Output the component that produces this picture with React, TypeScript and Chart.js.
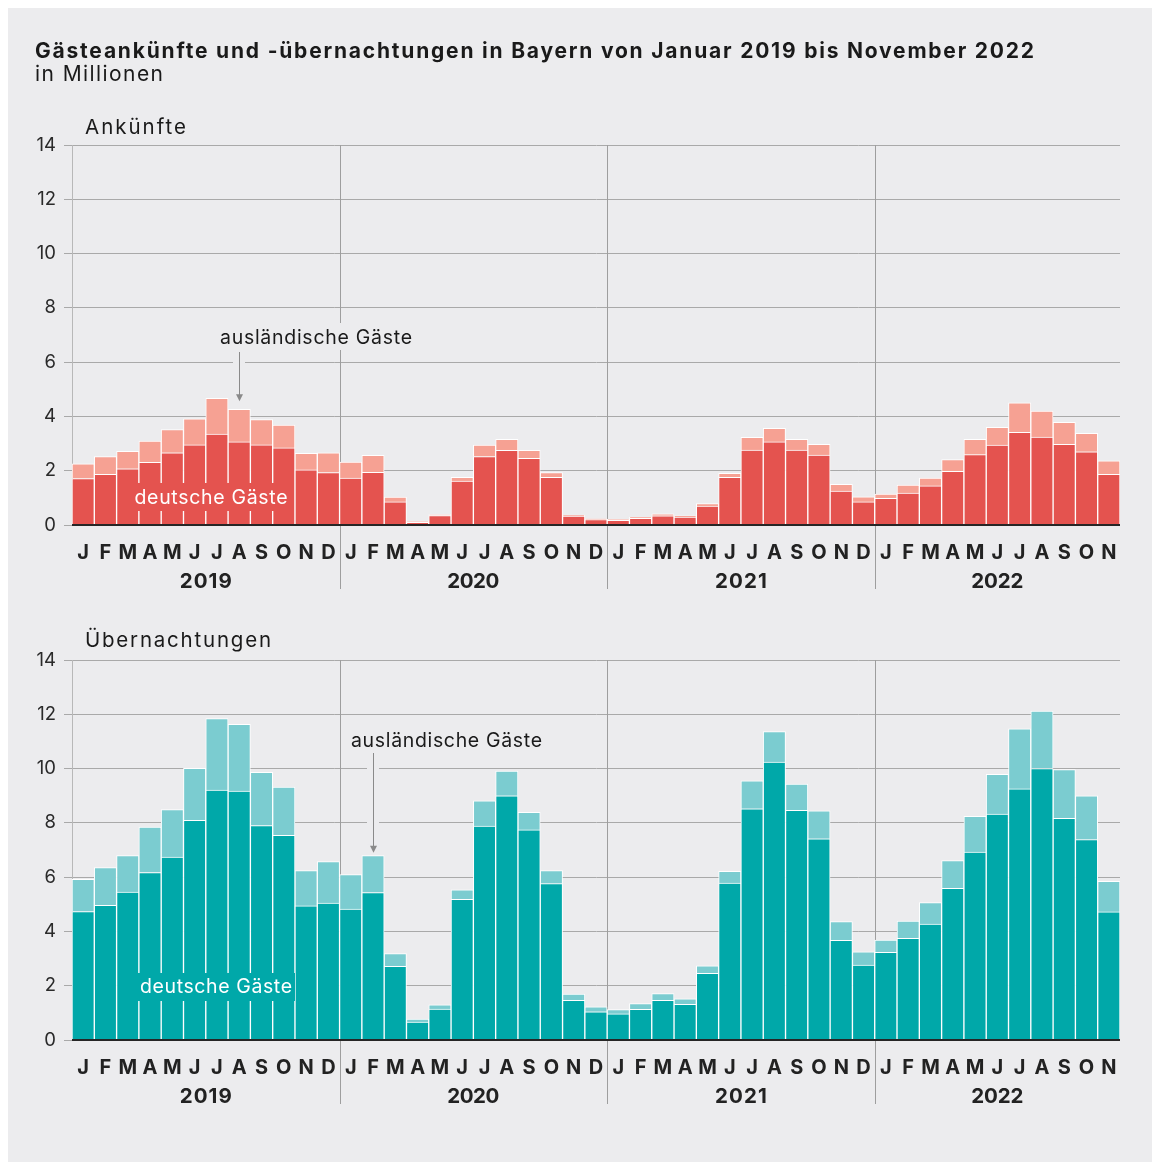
import React, { useEffect, useRef } from "react";
import { Chart, registerables } from "chart.js";

Chart.register(...registerables);

const FONT = "Inter, 'Liberation Sans', Arial, sans-serif";
const BG = "#ECECEE";

const MONTH_LETTERS = ["J", "F", "M", "A", "M", "J", "J", "A", "S", "O", "N", "D"];
const YEARS = ["2019", "2020", "2021", "2022"];
const CATEGORIES = YEARS.flatMap((y) => MONTH_LETTERS.map((_, i) => `${y}-${i + 1}`)).slice(0, 47);
const Y_TICKS = [0, 2, 4, 6, 8, 10, 12, 14];

const TITLE = "Gästeankünfte und -übernachtungen in Bayern von Januar 2019 bis November 2022";
const SUBTITLE = "in Millionen";

// Ankünfte (Mio.)
const ARRIVALS_GERMAN = [
  1.71, 1.87, 2.07, 2.31, 2.66, 2.95, 3.35, 3.06, 2.95, 2.84, 2.03, 1.93,
  1.73, 1.94, 0.85, 0.10, 0.35, 1.62, 2.52, 2.75, 2.46, 1.76, 0.33, 0.20,
  0.17, 0.25, 0.34, 0.29, 0.70, 1.76, 2.76, 3.06, 2.76, 2.58, 1.25, 0.85,
  0.98, 1.18, 1.44, 1.98, 2.59, 2.94, 3.41, 3.24, 2.97, 2.70, 1.87,
];
const ARRIVALS_FOREIGN = [
  0.54, 0.65, 0.64, 0.78, 0.86, 0.96, 1.32, 1.20, 0.93, 0.84, 0.61, 0.73,
  0.59, 0.63, 0.18, 0.03, 0.03, 0.14, 0.42, 0.41, 0.29, 0.17, 0.04, 0.03,
  0.04, 0.04, 0.07, 0.05, 0.09, 0.14, 0.47, 0.50, 0.40, 0.39, 0.25, 0.19,
  0.16, 0.29, 0.29, 0.43, 0.57, 0.66, 1.09, 0.96, 0.81, 0.68, 0.49,
];

// Übernachtungen (Mio.)
const NIGHTS_GERMAN = [
  4.73, 4.96, 5.45, 6.17, 6.74, 8.09, 9.21, 9.17, 7.90, 7.54, 4.94, 5.04,
  4.82, 5.43, 2.71, 0.66, 1.14, 5.18, 7.88, 9.00, 7.74, 5.76, 1.46, 1.04,
  0.96, 1.13, 1.46, 1.31, 2.46, 5.78, 8.52, 10.24, 8.46, 7.41, 3.67, 2.76,
  3.23, 3.75, 4.27, 5.59, 6.92, 8.32, 9.25, 10.00, 8.17, 7.38, 4.72,
];
const NIGHTS_FOREIGN = [
  1.19, 1.39, 1.34, 1.67, 1.75, 1.92, 2.63, 2.46, 1.96, 1.78, 1.30, 1.53,
  1.27, 1.36, 0.47, 0.11, 0.16, 0.35, 0.93, 0.91, 0.65, 0.48, 0.23, 0.18,
  0.16, 0.21, 0.25, 0.21, 0.27, 0.43, 1.03, 1.12, 0.97, 1.03, 0.69, 0.49,
  0.45, 0.63, 0.79, 1.02, 1.32, 1.47, 2.21, 2.12, 1.79, 1.62, 1.13,
];

type PanelCfg = {
  title: string;
  german: number[];
  foreign: number[];
  dark: string;
  light: string;
  padTop: number;
  padBottom: number;
  height: number;
  top: number;
  titleX: number;
  titleY: number;
  titleW: number;
  deX: number;
  deY: number;
  deW: number;
  deRect: [number, number, number, number];
  auX: number;
  auY: number;
  auW: number;
  auRect: [number, number, number, number] | null;
  arrowIndex: number;
  arrowTop: number;
  arrowGap: number;
};

function spacingFor(text: string, font: string, width: number): number {
  if (typeof document === "undefined") return 0;
  const c = document.createElement("canvas").getContext("2d");
  if (!c) return 0;
  c.font = font;
  const w0 = c.measureText(text).width;
  const n = Array.from(text).length;
  return n > 1 ? (width - w0) / (n - 1) : 0;
}

function fitText(
  ctx: CanvasRenderingContext2D,
  text: string,
  x: number,
  y: number,
  width: number,
  font: string,
  color: string,
  align: "left" | "center"
) {
  ctx.save();
  ctx.font = font;
  (ctx as any).letterSpacing = "0px";
  const w0 = ctx.measureText(text).width;
  const n = Array.from(text).length;
  const ls = n > 1 ? (width - w0) / (n - 1) : 0;
  (ctx as any).letterSpacing = `${ls}px`;
  ctx.fillStyle = color;
  ctx.textBaseline = "alphabetic";
  ctx.textAlign = "left";
  const left = align === "center" ? x - width / 2 : x;
  ctx.fillText(text, left, y);
  ctx.restore();
}

function makePlugin(cfg: PanelCfg) {
  return {
    id: "panelDeco",
    beforeDatasetsDraw(chart: any) {
      const { ctx, chartArea: a } = chart;
      const xs = chart.scales.x;
      ctx.save();
      ctx.strokeStyle = "#9e9e9e";
      ctx.lineWidth = 1;
      for (const b of [12, 24, 36]) {
        const px = Math.round((xs.getPixelForValue(b - 1) + xs.getPixelForValue(b)) / 2) + 0.5;
        ctx.beginPath();
        ctx.moveTo(px, a.top);
        ctx.lineTo(px, a.bottom + 64);
        ctx.stroke();
      }
      ctx.restore();
    },
    afterDatasetsDraw(chart: any) {
      const { ctx, chartArea: a } = chart;
      const xs = chart.scales.x;
      const ys = chart.scales.y;
      ctx.save();
      // baseline
      ctx.strokeStyle = "#262626";
      ctx.lineWidth = 2;
      ctx.beginPath();
      ctx.moveTo(a.left, a.bottom);
      ctx.lineTo(a.right, a.bottom);
      ctx.stroke();

      // month letters
      ctx.font = `bold 20px ${FONT}`;
      ctx.fillStyle = "#222222";
      ctx.textAlign = "center";
      ctx.textBaseline = "alphabetic";
      CATEGORIES.forEach((_, i) => {
        ctx.fillText(MONTH_LETTERS[i % 12], xs.getPixelForValue(i), a.bottom + 34);
      });
      // years
      YEARS.forEach((yr, yi) => {
        const first = yi * 12;
        const last = Math.min(yi * 12 + 11, CATEGORIES.length - 1);
        const cx = (xs.getPixelForValue(first) + xs.getPixelForValue(last)) / 2;
        fitText(ctx, yr, cx, a.bottom + 63, 52, `bold 20.5px ${FONT}`, "#222222", "center");
      });

      // panel title
      fitText(ctx, cfg.title, cfg.titleX, cfg.titleY, cfg.titleW, `20.5px ${FONT}`, "#1a1a1a", "left");

      // deutsche Gäste label
      const r = cfg.deRect;
      ctx.fillStyle = cfg.dark;
      ctx.fillRect(r[0], r[1], r[2], r[3]);
      fitText(ctx, "deutsche Gäste", cfg.deX, cfg.deY, cfg.deW, `19.5px ${FONT}`, "#ffffff", "center");

      // ausländische Gäste annotation
      if (cfg.auRect) {
        const q = cfg.auRect;
        ctx.fillStyle = BG;
        ctx.fillRect(q[0], q[1], q[2], q[3]);
      }
      fitText(ctx, "ausländische Gäste", cfg.auX, cfg.auY, cfg.auW, `19.5px ${FONT}`, "#1a1a1a", "left");

      const ai = cfg.arrowIndex;
      const ax = Math.round(xs.getPixelForValue(ai)) + 0.5;
      const tip = ys.getPixelForValue(cfg.german[ai] + cfg.foreign[ai]) - cfg.arrowGap;
      ctx.fillStyle = BG;
      ctx.fillRect(ax - 6.5, cfg.arrowTop, 12, tip - cfg.arrowTop - 8);
      ctx.strokeStyle = "#8a8a8a";
      ctx.lineWidth = 1;
      ctx.beginPath();
      ctx.moveTo(ax, cfg.arrowTop);
      ctx.lineTo(ax, tip - 6);
      ctx.stroke();
      ctx.fillStyle = "#8a8a8a";
      ctx.beginPath();
      ctx.moveTo(ax - 3.5, tip - 7);
      ctx.lineTo(ax + 3.5, tip - 7);
      ctx.lineTo(ax, tip);
      ctx.closePath();
      ctx.fill();
      ctx.restore();
    },
  };
}

function Panel({ cfg }: { cfg: PanelCfg }) {
  const ref = useRef<HTMLCanvasElement | null>(null);
  useEffect(() => {
    if (!ref.current) return;
    const chart = new Chart(ref.current, {
      type: "bar",
      data: {
        labels: CATEGORIES,
        datasets: [
          {
            label: "deutsche Gäste",
            data: cfg.german,
            backgroundColor: cfg.dark,
            borderColor: "#ffffff",
            borderWidth: 1,
            barPercentage: 1,
            categoryPercentage: 1,
            stack: "s",
          },
          {
            label: "ausländische Gäste",
            data: cfg.foreign,
            backgroundColor: cfg.light,
            borderColor: "#ffffff",
            borderWidth: 1,
            barPercentage: 1,
            categoryPercentage: 1,
            stack: "s",
          },
        ],
      },
      options: {
        animation: false,
        responsive: false,
        maintainAspectRatio: false,
        events: [],
        layout: { padding: { left: 0, right: 32, top: cfg.padTop, bottom: cfg.padBottom } },
        plugins: {
          legend: { display: false },
          tooltip: { enabled: false },
          title: { display: false },
        },
        scales: {
          x: {
            stacked: true,
            grid: { display: false },
            border: { display: false },
            ticks: { display: false },
            afterFit: (s: any) => {
              s.height = 0;
            },
          },
          y: {
            stacked: true,
            min: 0,
            max: 14,
            afterBuildTicks: (s: any) => {
              s.ticks = Y_TICKS.map((v) => ({ value: v }));
            },
            ticks: {
              font: { family: FONT, size: 18.5 },
              color: "#2a2a2a",
              padding: 8,
            },
            grid: { color: "#a9a9a9", lineWidth: 1, tickLength: 8, drawTicks: true },
            border: { display: true, color: "#b8b8b8", width: 1 },
            afterFit: (s: any) => {
              s.width = 64;
            },
          },
        },
      },
      plugins: [makePlugin(cfg)],
    } as any);
    return () => chart.destroy();
  }, [cfg]);
  return (
    <canvas
      ref={ref}
      width={1144}
      height={cfg.height}
      style={{ position: "absolute", left: 0, top: cfg.top, width: 1144, height: cfg.height, display: "block" }}
    />
  );
}

const TOP_PANEL: PanelCfg = {
  title: "Ankünfte",
  german: ARRIVALS_GERMAN,
  foreign: ARRIVALS_FOREIGN,
  dark: "#E4534F",
  light: "#F6A193",
  padTop: 137,
  padBottom: 83,
  height: 600,
  top: 0,
  titleX: 77,
  titleY: 126,
  titleW: 101,
  deX: 203,
  deY: 496,
  deW: 153,
  deRect: [124, 475, 158, 28],
  auX: 212,
  auY: 336,
  auW: 192,
  auRect: [207, 315, 202, 27],
  arrowIndex: 7,
  arrowTop: 344,
  arrowGap: 8,
};

const BOTTOM_PANEL: PanelCfg = {
  title: "Übernachtungen",
  german: NIGHTS_GERMAN,
  foreign: NIGHTS_FOREIGN,
  dark: "#00A8A9",
  light: "#7BCCD0",
  padTop: 52,
  padBottom: 122,
  height: 554,
  top: 600,
  titleX: 77,
  titleY: 39,
  titleW: 186,
  deX: 208,
  deY: 385,
  deW: 152,
  deRect: [129, 365, 158, 28],
  auX: 343,
  auY: 139,
  auW: 191,
  auRect: null,
  arrowIndex: 13,
  arrowTop: 145,
  arrowGap: 3,
};

export default function App() {
  const titleSpacing = spacingFor(TITLE, `bold 21px ${FONT}`, 999);
  const subSpacing = spacingFor(SUBTITLE, `21px ${FONT}`, 128);
  return (
    <div
      style={{
        position: "relative",
        width: 1144,
        height: 1154,
        background: BG,
        fontFamily: FONT,
        color: "#1a1a1a",
        overflow: "hidden",
      }}
    >
      <Panel cfg={TOP_PANEL} />
      <Panel cfg={BOTTOM_PANEL} />
      <div
        style={{
          position: "absolute",
          left: 27,
          top: 32,
          fontSize: 21,
          lineHeight: "21px",
          fontWeight: "bold",
          letterSpacing: `${titleSpacing}px`,
          whiteSpace: "nowrap",
          zIndex: 2,
        }}
      >
        {TITLE}
      </div>
      <div
        style={{
          position: "absolute",
          left: 27,
          top: 55,
          fontSize: 21,
          lineHeight: "21px",
          letterSpacing: `${subSpacing}px`,
          whiteSpace: "nowrap",
          zIndex: 2,
        }}
      >
        {SUBTITLE}
      </div>
    </div>
  );
}
